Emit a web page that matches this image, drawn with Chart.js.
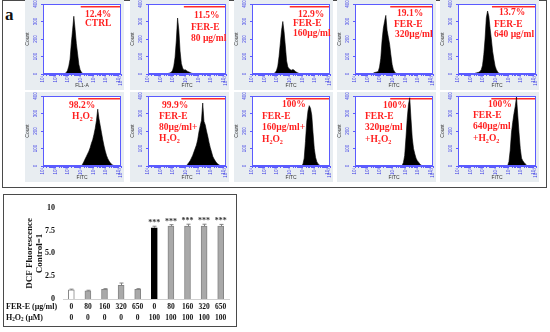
<!DOCTYPE html>
<html>
<head>
<meta charset="utf-8">
<script src="https://cdn.jsdelivr.net/npm/chart.js@4.4.1/dist/chart.umd.min.js"></script>
<style>
  body { margin: 0; background: #fff; }
  #page { position: relative; width: 550px; height: 332px; overflow: hidden; font-family: "Liberation Serif", "Times New Roman", serif; }
  .frame { position: absolute; border: 1px solid #4a4a4a; box-sizing: border-box; }
  .panel-label { position: absolute; font-weight: bold; font-size: 17px; line-height: 17px; color: #111; }
  .cell { position: absolute; background: #e8edf1; }
  .ann { position: absolute; z-index: 2; color: #ff1f1f; font-weight: bold; font-size: 9.5px; line-height: 10px; white-space: nowrap; }
  .ann sub { font-size: 65%; vertical-align: -0.25em; line-height: 0; }
</style>
</head>
<body>
<div id="page">
  <div class="frame" style="left:2px;top:0;width:545px;height:188px"></div>
  <div class="frame" style="left:3px;top:194px;width:234px;height:133px"></div>
  <div class="panel-label" style="left:5px;top:6px">a</div>
  <div class="panel-label" style="left:6px;top:197px">b</div>

  <!-- gate percentages, row 1 -->
  <div class="ann" style="left:85px;top:9px">12.4%</div>
  <div class="ann" style="left:85px;top:18px">CTRL</div>
  <div class="ann" style="left:194px;top:10px">11.5%</div>
  <div class="ann" style="left:191px;top:22px">FER-E</div>
  <div class="ann" style="left:191px;top:33px">80 µg/ml</div>
  <div class="ann" style="left:298px;top:9px">12.9%</div>
  <div class="ann" style="left:293px;top:18px">FER-E</div>
  <div class="ann" style="left:293px;top:28px">160µg/ml</div>
  <div class="ann" style="left:397px;top:8px">19.1%</div>
  <div class="ann" style="left:394px;top:19px">FER-E</div>
  <div class="ann" style="left:395px;top:29px">320µg/ml</div>
  <div class="ann" style="left:499px;top:7px">13.7%</div>
  <div class="ann" style="left:494px;top:19px">FER-E</div>
  <div class="ann" style="left:494px;top:29px">640 µg/ml</div>

  <!-- row 2 -->
  <div class="ann" style="left:69px;top:100px">98.2%</div>
  <div class="ann" style="left:72px;top:111px">H<sub>2</sub>O<sub>2</sub></div>
  <div class="ann" style="left:162px;top:100px">99.9%</div>
  <div class="ann" style="left:159px;top:111px">FER-E</div>
  <div class="ann" style="left:159px;top:122px">80µg/ml+</div>
  <div class="ann" style="left:159px;top:133px">H<sub>2</sub>O<sub>2</sub></div>
  <div class="ann" style="left:282px;top:99px">100%</div>
  <div class="ann" style="left:262px;top:111px">FER-E</div>
  <div class="ann" style="left:262px;top:122px">160µg/ml+</div>
  <div class="ann" style="left:262px;top:134px">H<sub>2</sub>O<sub>2</sub></div>
  <div class="ann" style="left:383px;top:100px">100%</div>
  <div class="ann" style="left:365px;top:111px">FER-E</div>
  <div class="ann" style="left:365px;top:122px">320µg/ml</div>
  <div class="ann" style="left:365px;top:134px">+H<sub>2</sub>O<sub>2</sub></div>
  <div class="ann" style="left:488px;top:99px">100%</div>
  <div class="ann" style="left:473px;top:110px">FER-E</div>
  <div class="ann" style="left:473px;top:121px">640µg/ml</div>
  <div class="ann" style="left:473px;top:133px">+H<sub>2</sub>O<sub>2</sub></div>

  <canvas id="dcf" class="cell" width="232" height="131" style="left:4px;top:195px;background:#fff"></canvas>
</div>

<script>
// histogram bins: 0.1 decade wide, from 10^1 to 10^7.2 (62 bins)
const binStart = 1.0;
const binWidth = 0.1;

const ctrlCounts = [
  0, 0, 0, 0, 0, 0, 0, 0, 0, 0,
  0, 0, 0, 0, 0, 0, 0, 3, 8, 20,
  45, 85, 175, 250, 330, 255, 175, 115, 55, 25,
  10, 4, 2, 0, 0, 0, 0, 0, 0, 0,
  0, 0, 0, 0, 0, 0, 0, 0, 0, 0,
  0, 0, 0, 0, 0, 0, 0, 0, 0, 0,
  0, 0
];
const fer80Counts = [
  0, 0, 0, 0, 0, 0, 0, 0, 0, 0,
  0, 0, 0, 0, 0, 2, 4, 6, 10, 20,
  45, 95, 190, 320, 250, 130, 60, 35, 22, 25,
  20, 15, 12, 8, 5, 3, 1, 0, 0, 0,
  0, 0, 0, 0, 0, 0, 0, 0, 0, 0,
  0, 0, 0, 0, 0, 0, 0, 0, 0, 0,
  0, 0
];
const fer160Counts = [
  0, 0, 0, 0, 0, 0, 0, 0, 0, 0,
  0, 0, 0, 0, 0, 0, 0, 3, 8, 20,
  45, 100, 175, 250, 300, 240, 160, 75, 40, 30,
  25, 22, 26, 22, 15, 10, 6, 3, 0, 0,
  0, 0, 0, 0, 0, 0, 0, 0, 0, 0,
  0, 0, 0, 0, 0, 0, 0, 0, 0, 0,
  0, 0
];
const fer320Counts = [
  0, 0, 0, 0, 0, 0, 0, 0, 0, 0,
  0, 0, 0, 0, 4, 8, 10, 12, 15, 40,
  90, 190, 260, 300, 335, 250, 210, 170, 110, 55,
  25, 12, 5, 2, 0, 0, 0, 0, 0, 0,
  0, 0, 0, 0, 0, 0, 0, 0, 0, 0,
  0, 0, 0, 0, 0, 0, 0, 0, 0, 0,
  0, 0
];
const fer640Counts = [
  0, 0, 0, 0, 0, 0, 0, 0, 0, 0,
  0, 0, 0, 4, 6, 8, 10, 14, 25, 50,
  110, 200, 320, 360, 330, 260, 200, 130, 85, 45,
  25, 12, 5, 2, 0, 0, 0, 0, 0, 0,
  0, 0, 0, 0, 0, 0, 0, 0, 0, 0,
  0, 0, 0, 0, 0, 0, 0, 0, 0, 0,
  0, 0
];
const h2o2Counts = [
  0, 0, 0, 0, 0, 0, 0, 0, 0, 0,
  0, 0, 0, 0, 0, 0, 0, 0, 0, 0,
  0, 0, 0, 0, 0, 0, 0, 0, 0, 0,
  3, 10, 25, 40, 55, 70, 85, 105, 130, 150,
  180, 215, 260, 325, 270, 230, 190, 150, 115, 85,
  60, 42, 28, 18, 10, 5, 2, 0, 0, 0,
  0, 0
];
const fer80H2o2Counts = [
  0, 0, 0, 0, 0, 0, 0, 0, 0, 0,
  0, 0, 0, 0, 0, 0, 0, 0, 0, 0,
  0, 0, 0, 0, 0, 0, 0, 0, 0, 0,
  3, 10, 20, 30, 45, 60, 80, 100, 120, 150,
  195, 230, 260, 360, 255, 235, 200, 170, 135, 105,
  80, 55, 40, 28, 18, 12, 6, 2, 0, 0,
  0, 0
];
const fer160H2o2Counts = [
  0, 0, 0, 0, 0, 0, 0, 0, 0, 0,
  0, 0, 0, 0, 0, 0, 0, 0, 0, 0,
  0, 0, 0, 0, 0, 0, 0, 0, 0, 0,
  0, 0, 0, 0, 0, 0, 0, 0, 0, 3,
  10, 45, 140, 250, 315, 345, 330, 290, 190, 100,
  50, 25, 12, 6, 2, 0, 0, 0, 0, 0,
  0, 0
];
const fer320H2o2Counts = [
  0, 0, 0, 0, 0, 0, 0, 0, 0, 0,
  0, 0, 0, 0, 0, 0, 0, 0, 0, 0,
  0, 0, 0, 0, 0, 0, 0, 0, 0, 0,
  0, 0, 0, 0, 0, 0, 0, 3, 20, 60,
  160, 270, 350, 390, 270, 160, 100, 70, 45, 30,
  22, 12, 5, 2, 0, 0, 0, 0, 0, 0,
  0, 0
];
const fer640H2o2Counts = [
  0, 0, 0, 0, 0, 0, 0, 0, 0, 0,
  0, 0, 0, 0, 0, 0, 0, 0, 0, 0,
  0, 0, 0, 0, 0, 0, 0, 0, 0, 0,
  0, 0, 0, 0, 0, 0, 0, 0, 0, 3,
  25, 90, 190, 250, 300, 340, 395, 290, 190, 100,
  45, 30, 20, 12, 5, 2, 0, 0, 0, 0,
  0, 0
];

const histCounts = [
  ctrlCounts, fer80Counts, fer160Counts, fer320Counts, fer640Counts,
  h2o2Counts, fer80H2o2Counts, fer160H2o2Counts, fer320H2o2Counts, fer640H2o2Counts
];
const histXTitles = ['FL1-A', 'FITC', 'FITC', 'FITC', 'FITC', 'FITC', 'FITC', 'FITC', 'FITC', 'FITC'];
// left end of the red M1 gate (log10 FITC)
const gateStarts = [4.0, 3.85, 4.0, 3.8, 3.7, 3.8, 3.65, 3.7, 3.8, 3.65];
const gateLevel = 385;

const countTicks = [0, 100, 200, 300, 400];
const decadeTicks = [1, 2, 3, 4, 5, 6, 7, 7.2];
const decadeLabels = ['10¹', '10²', '10³', '10⁴', '10⁵', '10⁶', '10⁷', '10⁷·²'];

// panel b
const ferDose = ['0', '80', '160', '320', '650', '0', '80', '160', '320', '650'];
const h2o2Dose = ['0', '0', '0', '0', '0', '100', '100', '100', '100', '100'];
const dcfMean = [1.0, 0.9, 1.05, 1.5, 1.05, 7.8, 8.0, 8.0, 8.0, 8.0];
const dcfErr = [0.08, 0.06, 0.08, 0.25, 0.08, 0.18, 0.15, 0.2, 0.2, 0.18];
const dcfStars = ['', '', '', '', '', '***', '***', '***', '***', '***'];
const dcfTicks = [0, 2.5, 5, 7.5, 10];
const dcfTickLabels = ['0', '2.5', '5.0', '7.5', '10'];

const SERIF = "'Liberation Serif', 'Times New Roman', serif";
const SANS = "'Liberation Sans', Arial, sans-serif";
const BLUE = '#5b5bff';

// minor log ticks on the FITC axis
const xTickValues = decadeTicks.slice();
for (let d = 1; d <= 6; d++) {
    for (let k = 2; k <= 9; k++) xTickValues.push(d + Math.log10(k));
}

// white plot area with a blue frame, like the cytometer export
const plotFrame = {
    id: 'plotFrame',
    beforeDraw(chart) {
        const { ctx, chartArea: a } = chart;
        ctx.save();
        ctx.fillStyle = '#fff';
        ctx.fillRect(a.left, a.top, a.right - a.left, a.bottom - a.top);
        ctx.restore();
    },
    afterDraw(chart) {
        const { ctx, chartArea: a } = chart;
        ctx.save();
        ctx.strokeStyle = BLUE;
        ctx.lineWidth = 1;
        ctx.strokeRect(a.left + 0.5, a.top + 0.5, a.right - a.left - 1, a.bottom - a.top - 1);
        ctx.restore();
    }
};

const panelLefts = [25, 130, 234, 337, 440];
const rowTops = [0, 92];

function drawHistogram(idx) {
    const canvas = document.createElement('canvas');
    canvas.width = 99;
    canvas.height = 90;
    canvas.className = 'cell';
    canvas.style.left = panelLefts[idx % 5] + 'px';
    canvas.style.top = rowTops[Math.floor(idx / 5)] + 'px';
    document.getElementById('page').appendChild(canvas);

    const counts = histCounts[idx];
    const points = counts.map((c, i) => ({ x: binStart + binWidth * (i + 0.5), y: c }));

    new Chart(canvas, {
        type: 'line',
        data: {
            datasets: [
                {
                    data: points,
                    fill: 'origin',
                    tension: 0,
                    backgroundColor: '#000',
                    borderColor: '#000',
                    borderWidth: 0.6,
                    pointRadius: 0
                },
                {
                    data: [{ x: gateStarts[idx], y: gateLevel }, { x: 7.2, y: gateLevel }],
                    borderColor: '#ff2b2b',
                    borderWidth: 1.5,
                    pointRadius: 0,
                    fill: false
                }
            ]
        },
        options: {
            responsive: false,
            animation: false,
            events: [],
            layout: { padding: { top: 4, right: 3, left: 0, bottom: 0 } },
            plugins: { legend: { display: false }, tooltip: { enabled: false } },
            scales: {
                x: {
                    type: 'linear',
                    min: 1,
                    max: 7.2,
                    afterBuildTicks: s => { s.ticks = xTickValues.map(v => ({ value: v })); },
                    afterFit: s => { s.height = 16; },
                    ticks: {
                        autoSkip: false,
                        minRotation: 90,
                        maxRotation: 90,
                        padding: 0,
                        color: '#3a3ae6',
                        font: { family: SANS, size: 4.5 },
                        callback: v => {
                            const k = decadeTicks.indexOf(v);
                            return k < 0 ? '' : decadeLabels[k];
                        }
                    },
                    grid: { drawOnChartArea: false, tickLength: 2, color: BLUE },
                    border: { color: BLUE },
                    title: {
                        display: true,
                        text: histXTitles[idx],
                        color: '#333',
                        font: { family: SANS, size: 5 },
                        padding: { top: 0, bottom: 1 }
                    }
                },
                y: {
                    min: 0,
                    max: 400,
                    afterBuildTicks: s => { s.ticks = countTicks.map(v => ({ value: v })); },
                    afterFit: s => { s.width = 18; },
                    ticks: {
                        minRotation: 90,
                        maxRotation: 90,
                        crossAlign: 'center',
                        padding: 1,
                        color: '#3a3ae6',
                        font: { family: SANS, size: 4.5 }
                    },
                    grid: { drawOnChartArea: false, tickLength: 2, color: BLUE },
                    border: { color: BLUE },
                    title: {
                        display: true,
                        text: 'Count',
                        color: '#333',
                        font: { family: SANS, size: 5 },
                        padding: { top: 0, bottom: 0 }
                    }
                }
            }
        },
        plugins: [plotFrame]
    });
}

for (let i = 0; i < histCounts.length; i++) drawHistogram(i);

// ---- panel b ----
const barFill = dcfMean.map((v, i) => i === 0 ? '#ffffff' : i === 5 ? '#000000' : '#a9a9a9');
const barEdge = dcfMean.map((v, i) => i === 5 ? '#000000' : '#858585');

const TABLE_FONT = 7.5;
const TABLE_LH = 1.45;
const TABLE_PAD = 2.5;

const errorBars = {
    id: 'errorBars',
    afterDatasetsDraw(chart) {
        const { ctx, scales: { y } } = chart;
        const meta = chart.getDatasetMeta(0);
        ctx.save();
        ctx.strokeStyle = '#808080';
        ctx.lineWidth = 1;
        meta.data.forEach((bar, i) => {
            const top = y.getPixelForValue(dcfMean[i] + dcfErr[i]);
            const x = Math.round(bar.x) + 0.5;
            ctx.beginPath();
            ctx.moveTo(x, bar.y);
            ctx.lineTo(x, top);
            ctx.moveTo(x - 2, top);
            ctx.lineTo(x + 2, top);
            ctx.stroke();
            if (dcfStars[i]) {
                ctx.fillStyle = '#333';
                ctx.font = `bold 8px ${SERIF}`;
                ctx.textAlign = 'center';
                ctx.textBaseline = 'alphabetic';
                ctx.fillText(dcfStars[i], bar.x, top - 1);
            }
        });
        ctx.restore();
    }
};

// row captions of the dose table under the bars
const tableHeads = [
    [['FER-E (µg/ml)', false]],
    [['H', false], ['2', true], ['O', false], ['2', true], [' (µM)', false]]
];
const tableCaptions = {
    id: 'tableCaptions',
    afterDraw(chart) {
        const { ctx, scales: { x } } = chart;
        const lh = TABLE_FONT * TABLE_LH;
        ctx.save();
        ctx.fillStyle = '#111';
        ctx.textAlign = 'left';
        ctx.textBaseline = 'middle';
        tableHeads.forEach((parts, row) => {
            let cx = 2;
            const cy = x.top + TABLE_PAD + lh / 2 + row * lh;
            parts.forEach(([t, sub]) => {
                const size = sub ? TABLE_FONT * 0.68 : TABLE_FONT + 0.5;
                ctx.font = `bold ${size}px ${SERIF}`;
                ctx.fillText(t, cx, cy + (sub ? 2 : 0));
                cx += ctx.measureText(t).width;
            });
        });
        ctx.restore();
    }
};

new Chart(document.getElementById('dcf'), {
    type: 'bar',
    data: {
        labels: ferDose.map((f, i) => [f, h2o2Dose[i]]),
        datasets: [{
            data: dcfMean,
            backgroundColor: barFill,
            borderColor: barEdge,
            borderWidth: 1,
            barThickness: 6
        }]
    },
    options: {
        responsive: false,
        animation: false,
        events: [],
        layout: { padding: { top: 8, right: 7, left: 0, bottom: 0 } },
        plugins: { legend: { display: false }, tooltip: { enabled: false } },
        scales: {
            x: {
                grid: { display: false, drawTicks: false },
                border: { color: '#d0d0d0' },
                afterFit: s => { s.height = 27; },
                ticks: {
                    autoSkip: false,
                    maxRotation: 0,
                    padding: TABLE_PAD,
                    color: '#111',
                    font: { family: SERIF, weight: 'bold', size: TABLE_FONT, lineHeight: TABLE_LH }
                }
            },
            y: {
                min: 0,
                max: 10,
                afterBuildTicks: s => { s.ticks = dcfTicks.map(v => ({ value: v })); },
                afterFit: s => { s.width = 59; },
                ticks: {
                    padding: 8,
                    color: '#111',
                    font: { family: SERIF, weight: 'bold', size: 8 },
                    callback: v => dcfTickLabels[dcfTicks.indexOf(v)]
                },
                grid: { display: false, drawTicks: false },
                border: { display: false },
                title: {
                    display: true,
                    text: ['DCF Fluorescence', 'Control=1'],
                    color: '#111',
                    font: { family: SERIF, weight: 'bold', size: 9, lineHeight: 1.1 },
                    padding: { top: 21, bottom: 0 }
                }
            }
        }
    },
    plugins: [errorBars, tableCaptions]
});
</script>
</body>
</html>
